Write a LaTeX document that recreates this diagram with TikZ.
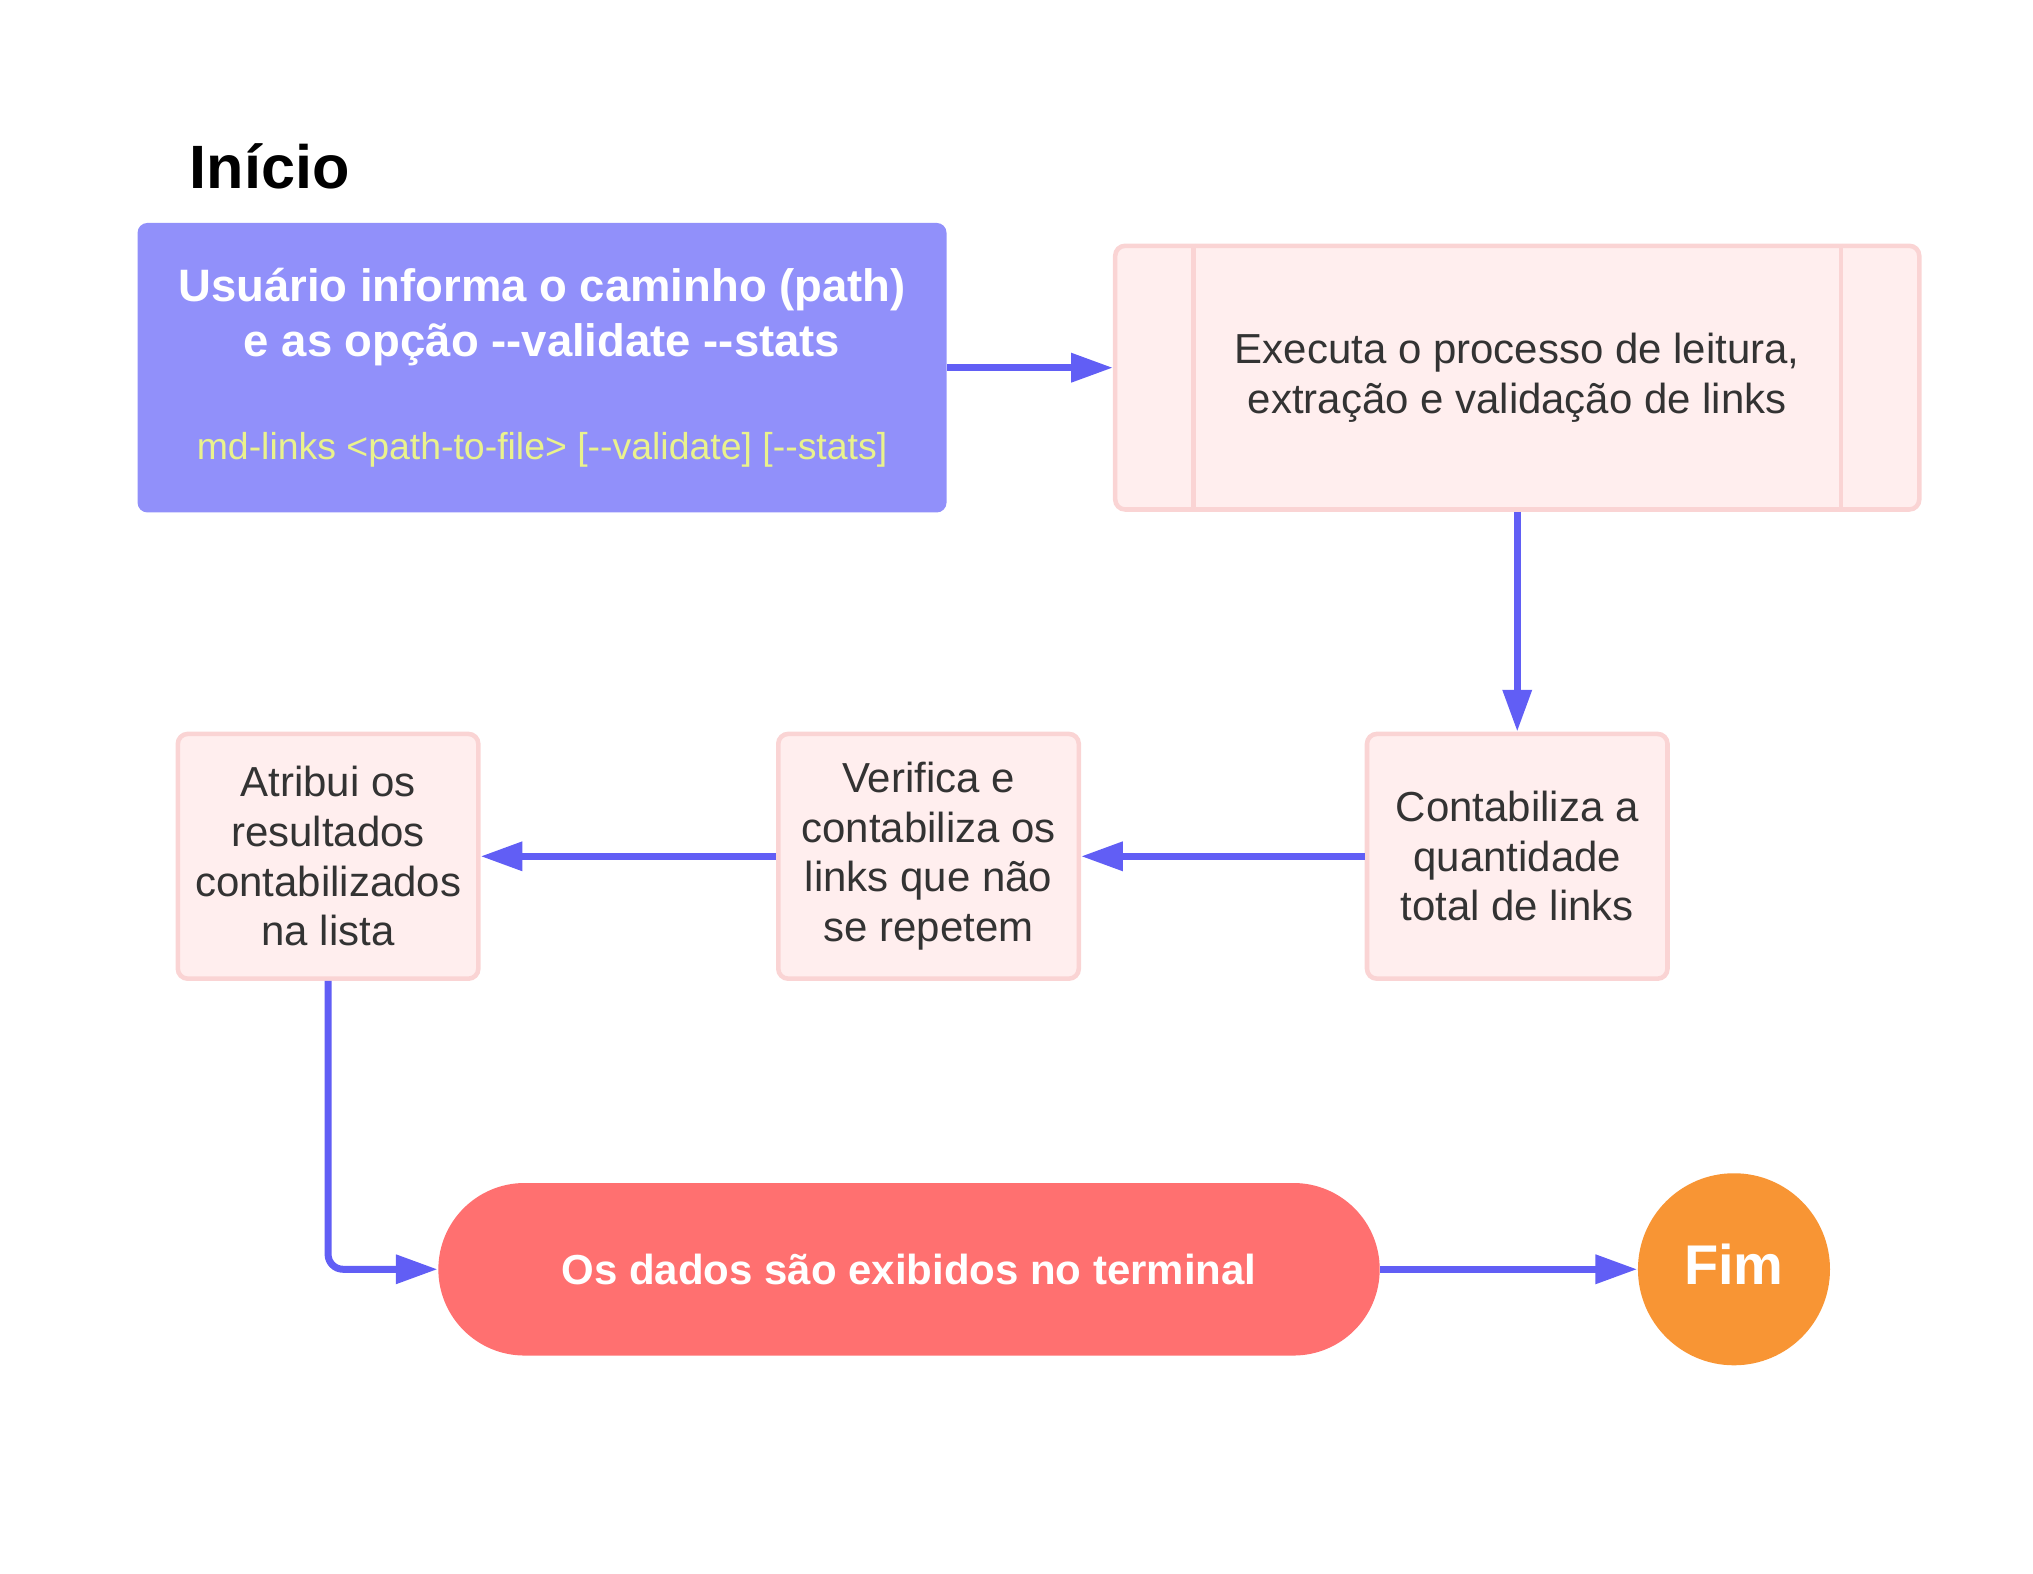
\documentclass[tikz,border=0pt]{standalone}
\usepackage{fontspec}
\setmainfont{Liberation Sans}[Ligatures=TeXOff]
\usepackage{tikz}
\usetikzlibrary{arrows.meta,shapes,positioning}
\definecolor{flowblue}{RGB}{97,94,245}
\definecolor{boxblue}{RGB}{145,144,250}
\definecolor{mdyellow}{RGB}{234,242,140}
\definecolor{procfill}{RGB}{255,238,238}
\definecolor{procline}{RGB}{250,212,212}
\definecolor{termred}{RGB}{255,112,112}
\definecolor{endorange}{RGB}{248,149,52}
\definecolor{textgray}{RGB}{51,51,51}
\tikzstyle{titletext} = [inner sep=0pt, font=\bfseries\fontsize{17.5}{21}\selectfont]
\tikzstyle{inputbox}  = [rectangle, fill=boxblue, rounded corners=0.1cm, text=white, align=center, minimum width=8.13cm, minimum height=2.91cm, font=\bfseries\fontsize{13}{15.5}\selectfont]
\tikzstyle{procbox}   = [rectangle, fill=procfill, draw=procline, line width=1.3pt, rounded corners=0.1cm, text=textgray, align=center, font=\fontsize{12}{14.2}\selectfont]
\tikzstyle{stepbox}   = [procbox, minimum width=3.02cm, minimum height=2.46cm]
\tikzstyle{termbox}   = [rectangle, fill=termred, rounded corners=0.867cm, text=white, minimum width=9.46cm, minimum height=1.734cm, font=\bfseries\fontsize{12}{14}\selectfont]
\tikzstyle{endcircle} = [circle, fill=endorange, text=white, inner sep=0pt, minimum size=1.93cm, font=\bfseries\fontsize{16}{19}\selectfont]
\tikzstyle{arrow}     = [line width=2pt, draw=flowblue, ->, >={Triangle[length=4.2mm,width=2.8mm]}]
\begin{document}
\begin{tikzpicture}[node distance=2cm]
            \useasboundingbox (0,0) rectangle (20.43,-15.81);
            %Create nodes for top row
            \node (inicio)   [titletext, anchor=west] at (1.90,-1.668) {Início};
            \node (usuario)  [inputbox] at (5.447,-3.695) {Usuário informa o caminho (path)\\ e as opção --validate --stats\\[14pt] {\fontsize{10.7}{13}\mdseries\color{mdyellow}md-links <path-to-file> [--validate] [--stats]}};
            \node (executa)  [procbox, minimum width=8.08cm, minimum height=2.65cm, right of = usuario, xshift=7.80cm, yshift=-0.10cm] {Executa o processo de leitura,\\ extração e validação de links};
            \draw [procline, line width=1.3pt] ([xshift=0.808cm]executa.north west) -- ([xshift=0.808cm]executa.south west);
            \draw [procline, line width=1.3pt] ([xshift=-0.808cm]executa.north east) -- ([xshift=-0.808cm]executa.south east);
            %Create nodes for middle row
            \node (contab)   [stepbox, below of = executa, yshift=-2.81cm]  {Contabiliza a\\ quantidade\\ total de links};
            \node (verifica) [stepbox, left of = contab, xshift=-3.916cm]   {Verifica e\\ contabiliza os\\ links que não\\ se repetem};
            \node (atribui)  [stepbox, left of = verifica, xshift=-4.034cm] {Atribui os\\ resultados\\ contabilizados\\ na lista};
            %Create nodes for bottom row
            \node (terminal) [termbox, below of = verifica, xshift=-0.196cm, yshift=-2.15cm] {Os dados são exibidos no terminal};
            \node (fim)      [endcircle, right of = terminal, xshift=6.29cm] {\raisebox{1mm}{Fim}};
            %Connect nodes
            \draw [arrow] (usuario.east)  -- (usuario.east -| executa.west);
            \draw [arrow] (executa.south) -- (contab.north);
            \draw [arrow] (contab.west)   -- (verifica.east);
            \draw [arrow] (verifica.west) -- (atribui.east);
            \draw [arrow, rounded corners=0.15cm] (atribui.south) |- (terminal.west);
            \draw [arrow] (terminal.east) -- (fim.west);
        \end{tikzpicture}
\end{document}
